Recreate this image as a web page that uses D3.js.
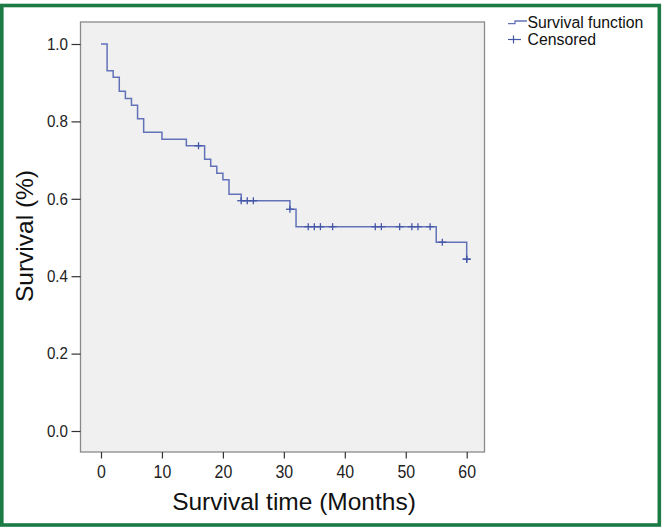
<!DOCTYPE html>
<html><head><meta charset="utf-8">
<script src="https://cdn.jsdelivr.net/npm/d3@7"></script>
<style>
html,body{margin:0;padding:0;background:#fff;}
text{font-family:"Liberation Sans",Arial,sans-serif;}
</style></head>
<body>
<svg id="chart" width="662" height="527"></svg>
<script>
// ---- data ----
const stepTimes = [0, 1, 2, 3, 4, 5, 6, 7, 10, 14, 17, 18, 19, 20, 21, 23, 31, 32, 55, 60];
const survival  = [1.000, 0.931, 0.914, 0.878, 0.859, 0.842, 0.807, 0.772, 0.754, 0.737, 0.702, 0.684, 0.666, 0.649, 0.612, 0.595, 0.573, 0.528, 0.488, 0.444];
const censorTimes = [16, 23, 24, 25, 31, 34, 35, 36, 38, 45, 46, 49, 51, 52, 54, 56, 60, 60];
const xTicks = [0, 10, 20, 30, 40, 50, 60];
const yTicks = [0.0, 0.2, 0.4, 0.6, 0.8, 1.0];
const legendLabels = ["Survival function", "Censored"];
const xTitle = "Survival time (Months)";
const yTitle = "Survival (%)";

// ---- layout ----
const svg = d3.select("#chart");
const frame = {left: 80.5, top: 22, right: 484.5, bottom: 452};
const x = d3.scaleLinear().domain([0, 60]).range([101, 466.7]);
const y = d3.scaleLinear().domain([0, 1]).range([431, 44]);
const lineColor = "#6272b9";
const censorColor = "#4456a8";

// outer green border
svg.append("rect").attr("x", 1.8).attr("y", 5.5).attr("width", 657.5).attr("height", 519.5)
  .attr("fill", "none").attr("stroke", "#1c7a45").attr("stroke-width", 3.6);

// plot background
svg.append("rect").attr("x", frame.left).attr("y", frame.top)
  .attr("width", frame.right - frame.left).attr("height", frame.bottom - frame.top)
  .attr("fill", "#f0f0f0").attr("stroke", "#8a8a8a").attr("stroke-width", 1.3);

// axes
const yAxis = d3.axisLeft(y).tickValues(yTicks).tickFormat(d3.format(".1f")).tickSize(9).tickPadding(3);
const gy = svg.append("g").attr("transform", `translate(${frame.left},0)`).call(yAxis);
gy.select(".domain").remove();
gy.selectAll(".tick line").attr("stroke", "#333").attr("stroke-width", 1.2);
gy.selectAll(".tick text").attr("font-size", 16.5).attr("fill", "#222")
  .attr("transform", "scale(0.92,1)").attr("x", -12.5 / 0.92);

const xAxis = d3.axisBottom(x).tickValues(xTicks).tickFormat(d3.format("d")).tickSize(6.5).tickPadding(6.5);
const gx = svg.append("g").attr("transform", `translate(0,${frame.bottom})`).call(xAxis);
gx.select(".domain").remove();
gx.selectAll(".tick line").attr("stroke", "#333").attr("stroke-width", 1.2);
gx.selectAll(".tick text").attr("font-size", 18.5).attr("fill", "#222")
  .attr("transform", "scale(0.86,1)");

// titles
svg.append("text").attr("x", 294).attr("y", 509.5).attr("text-anchor", "middle")
  .attr("font-size", 24.5).attr("fill", "#111").text(xTitle);
svg.append("text").attr("transform", "translate(33,236) rotate(-90)").attr("text-anchor", "middle")
  .attr("font-size", 24.5).attr("fill", "#111").text(yTitle);

// survival step curve
const pts = stepTimes.map((t, i) => [t, survival[i]]);
const line = d3.line().x(d => x(d[0])).y(d => y(d[1])).curve(d3.curveStepAfter);
svg.append("path").datum(pts).attr("d", line).attr("fill", "none")
  .attr("stroke", lineColor).attr("stroke-width", 1.5);

// censor marks
const survAt = t => survival[d3.bisectRight(stepTimes, t) - 1];
const cg = svg.append("g").attr("stroke", censorColor).attr("stroke-width", 1.3);
censorTimes.forEach(t => {
  const cx = x(t), cy = y(survAt(t));
  cg.append("line").attr("x1", cx).attr("x2", cx).attr("y1", cy - 3.5).attr("y2", cy + 3.5);
  cg.append("line").attr("x1", cx - 4).attr("x2", cx + 4).attr("y1", cy).attr("y2", cy);
});

// legend
const lg = svg.append("g");
lg.append("path").attr("d", "M508,23.7H515V21H527").attr("fill", "none")
  .attr("stroke", lineColor).attr("stroke-width", 1.3);
lg.append("line").attr("x1", 508).attr("x2", 521).attr("y1", 39.5).attr("y2", 39.5)
  .attr("stroke", censorColor).attr("stroke-width", 1.2);
lg.append("line").attr("x1", 513.5).attr("x2", 513.5).attr("y1", 35.5).attr("y2", 43.5)
  .attr("stroke", censorColor).attr("stroke-width", 1.2);
lg.selectAll("text.leg").data(legendLabels).enter().append("text").attr("class", "leg")
  .attr("x", 527.5).attr("y", (d, i) => 27.5 + i * 17.5)
  .attr("font-size", 15.8).attr("fill", "#111").text(d => d);
</script>
</body></html>
